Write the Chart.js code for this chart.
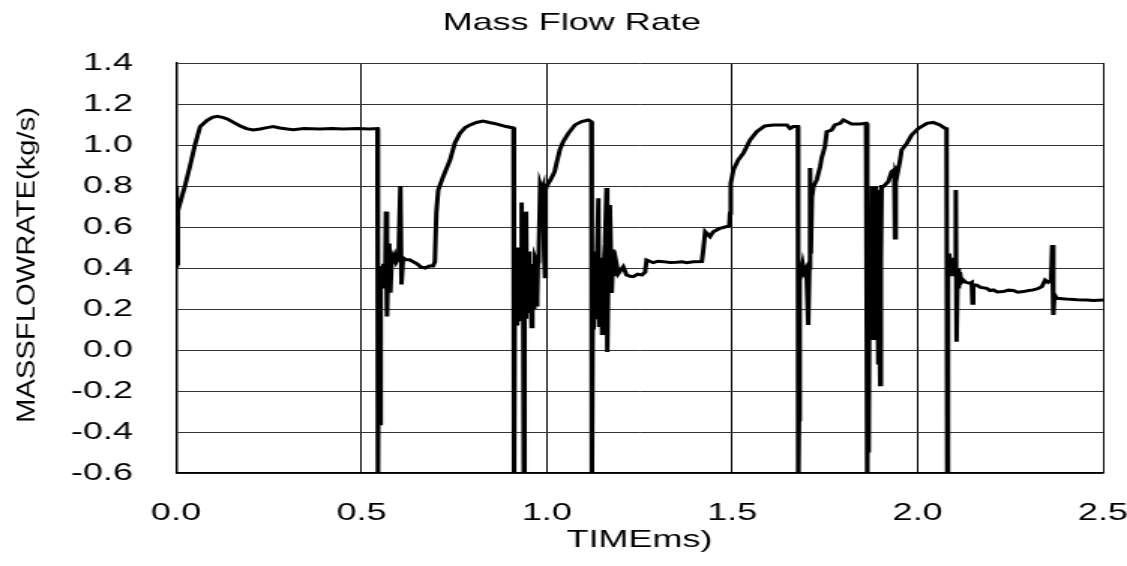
<!DOCTYPE html>
<html>
<head>
<meta charset="utf-8">
<script src="https://cdn.jsdelivr.net/npm/chart.js@4/dist/chart.umd.min.js"></script>
<style>
  html, body { margin: 0; padding: 0; background: #fff; overflow: hidden; }
  #c { display: block; transform: scaleX(1.50067); transform-origin: 0 0; }
</style>
</head>
<body>
<canvas id="c" width="751" height="566"></canvas>
<script>
// ---- data ----
const chartTitle = 'Mass Flow Rate';
const xAxisTitle = 'TIMEms)';
const yAxisTitle = 'MASSFLOWRATE(kg/s)';
const xTicks = [0.0, 0.5, 1.0, 1.5, 2.0, 2.5];
const yTicks = [-0.6, -0.4, -0.2, 0.0, 0.2, 0.4, 0.6, 0.8, 1.0, 1.2, 1.4];

// time (ms)
const timeMs = [
  0.000, 0.001, 0.002, 0.003, 0.005, 0.024, 0.038, 0.051, 0.065, 0.084, 0.098, 0.111, 0.125, 0.138, 0.155, 0.173,
  0.190, 0.208, 0.227, 0.245, 0.262, 0.280, 0.300, 0.316, 0.345, 0.388, 0.420, 0.450, 0.490, 0.520, 0.543,
  0.544, 0.545, 0.547, 0.550, 0.552, 0.556, 0.560, 0.564, 0.566, 0.569, 0.572, 0.575, 0.578, 0.582, 0.586, 0.590,
  0.594, 0.600, 0.605, 0.608, 0.612, 0.620, 0.630, 0.640, 0.650, 0.660, 0.672, 0.683, 0.693, 0.698, 0.702, 0.707,
  0.720, 0.739, 0.752, 0.766, 0.780, 0.793, 0.810, 0.828, 0.845, 0.866, 0.890, 0.910,
  0.911, 0.912, 0.914, 0.916, 0.918, 0.920, 0.922, 0.924, 0.926, 0.928, 0.930, 0.932, 0.934, 0.936, 0.938, 0.940,
  0.942, 0.944, 0.946, 0.948, 0.951, 0.953, 0.955, 0.957, 0.959, 0.961, 0.963, 0.966, 0.968, 0.970, 0.972, 0.974,
  0.976, 0.978, 0.982, 0.986, 0.990, 0.993, 0.995, 0.997, 0.999, 1.012, 1.021, 1.026,
  1.035, 1.044, 1.058, 1.076, 1.094, 1.112, 1.120,
  1.1215, 1.124, 1.126, 1.128, 1.130, 1.132, 1.134, 1.136, 1.139, 1.141, 1.143, 1.145, 1.147, 1.149, 1.151, 1.153,
  1.155, 1.157, 1.161, 1.163, 1.166, 1.170, 1.175, 1.179, 1.184, 1.188, 1.193, 1.199, 1.206, 1.215, 1.225, 1.233,
  1.245, 1.256, 1.265, 1.269, 1.287, 1.300, 1.314, 1.332, 1.350, 1.365, 1.377, 1.395, 1.418, 1.422, 1.427, 1.440,
  1.449, 1.467, 1.492, 1.494, 1.496, 1.503, 1.516, 1.530, 1.548, 1.566, 1.588, 1.611, 1.630, 1.647, 1.656, 1.665,
  1.677,
  1.678, 1.680, 1.682, 1.686, 1.690, 1.694, 1.700, 1.705, 1.708, 1.710, 1.712, 1.715, 1.719, 1.728, 1.737, 1.741,
  1.750, 1.755, 1.768, 1.777, 1.791, 1.800, 1.809, 1.822, 1.845, 1.861, 1.864,
  1.8645, 1.866, 1.868, 1.870, 1.872, 1.875, 1.877, 1.879, 1.881, 1.883, 1.886, 1.888, 1.890, 1.892, 1.894, 1.896,
  1.899, 1.901, 1.903, 1.9075, 1.921, 1.930, 1.937, 1.939, 1.941, 1.944, 1.952, 1.957, 1.971, 1.984, 2.002, 2.025,
  2.042, 2.060, 2.074, 2.078,
  2.080, 2.082, 2.085, 2.088, 2.091, 2.094, 2.097, 2.100, 2.103, 2.105, 2.108, 2.111, 2.114, 2.118, 2.123, 2.130,
  2.141, 2.146, 2.148, 2.150, 2.159, 2.170, 2.186, 2.195, 2.204, 2.215, 2.231, 2.245, 2.258, 2.270, 2.285, 2.300,
  2.312, 2.325, 2.335, 2.344, 2.352, 2.360, 2.363, 2.366, 2.369, 2.375, 2.390, 2.411, 2.430, 2.456, 2.475, 2.500
];

// mass flow rate (kg/s); values under -0.6 run off the bottom of the plot
const massFlow = [
  0.80, 0.40, 0.79, 0.42, 0.68, 0.80, 0.90, 1.00, 1.09, 1.12, 1.135, 1.14, 1.135, 1.127, 1.11, 1.093,
  1.08, 1.073, 1.078, 1.085, 1.090, 1.083, 1.078, 1.075, 1.080, 1.078, 1.080, 1.078, 1.080, 1.078, 1.080,
  -0.75, -0.75, 0.41, -0.36, 0.40, 0.35, 0.42, 0.30, 0.675, 0.163, 0.45, 0.52, 0.28, 0.46, 0.44, 0.46,
  0.43, 0.45, 0.80, 0.32, 0.45, 0.44, 0.44, 0.43, 0.42, 0.405, 0.40, 0.41, 0.41, 0.43, 0.67, 0.78,
  0.844, 0.927, 1.01, 1.058, 1.085, 1.098, 1.11, 1.117, 1.11, 1.102, 1.09, 1.083,
  1.08, -0.75, 0.48, 0.15, 0.50, 0.12, 0.45, 0.18, 0.40, 0.14, 0.46, 0.72, 0.22, 0.42, -0.75, 0.35,
  0.16, 0.675, 0.20, 0.44, 0.48, 0.18, 0.40, 0.25, 0.114, 0.42, 0.40, 0.20, 0.45, 0.44, 0.22, 0.25,
  0.43, 0.45, 0.805, 0.78, 0.80, 0.45, 0.357, 0.78, 0.797, 0.837, 0.87, 0.91,
  0.976, 1.016, 1.057, 1.098, 1.114, 1.122, 1.114,
  -0.75, 0.30, 0.10, 0.45, 0.15, 0.48, 0.18, 0.50, 0.74, 0.12, 0.42, 0.15, 0.45, 0.08, 0.40, 0.20,
  0.46, 0.52, 0.79, -0.01, 0.40, 0.707, 0.278, 0.49, 0.36, 0.42, 0.374, 0.39, 0.406, 0.366, 0.36, 0.358,
  0.37, 0.366, 0.38, 0.439, 0.426, 0.433, 0.431, 0.427, 0.428, 0.43, 0.426, 0.43, 0.431, 0.488, 0.577, 0.553,
  0.577, 0.594, 0.605, 0.667, 0.813, 0.878, 0.927, 0.96, 1.024, 1.065, 1.093, 1.098, 1.098, 1.098, 1.081, 1.09,
  1.09,
  -0.75, -0.34, 0.42, 0.38, 0.42, 0.38, 0.40, 0.122, 0.40, 0.888, 0.47, 0.747, 0.797, 0.83, 0.894, 0.935,
  0.992, 1.065, 1.073, 1.098, 1.106, 1.122, 1.114, 1.102, 1.102, 1.106, 1.10,
  -0.75, 0.30, -0.50, 0.35, 0.05, 0.40, 0.797, 0.10, 0.45, 0.049, 0.797, 0.25, 0.78, 0.30, -0.063, 0.40,
  -0.17, 0.45, 0.797, 0.797, 0.821, 0.87, 0.88, 0.546, 0.86, 0.845, 0.919, 0.976, 1.008, 1.049, 1.081, 1.106,
  1.11, 1.098, 1.081, 1.08,
  -0.75, 0.42, 0.47, 0.40, 0.45, 0.36, 0.44, 0.38, 0.78, 0.04, 0.40, 0.30, 0.38, 0.33, 0.341, 0.33,
  0.325, 0.33, 0.228, 0.32, 0.317, 0.305, 0.301, 0.29, 0.293, 0.283, 0.285, 0.292, 0.29, 0.282, 0.285, 0.29,
  0.293, 0.30, 0.309, 0.341, 0.33, 0.34, 0.512, 0.171, 0.27, 0.252, 0.25, 0.247, 0.245, 0.244, 0.242, 0.244
];

// ---- chart ----
const STRETCH = 1127 / 751;
const FONT = '"Liberation Sans", Arial, Helvetica, sans-serif';
Chart.defaults.font.family = FONT;
Chart.defaults.color = '#000';

const points = timeMs.map((t, i) => ({ x: t, y: massFlow[i] }));
const fmt = v => (Math.abs(v) < 1e-9 ? 0 : v).toFixed(1);

const yTitlePlugin = {
  id: 'yTitle',
  afterDraw(chart) {
    const ctx = chart.ctx;
    const area = chart.chartArea;
    ctx.save();
    ctx.font = '25px ' + FONT;
    ctx.fillStyle = '#000';
    ctx.textAlign = 'center';
    ctx.textBaseline = 'middle';
    const w = ctx.measureText(yAxisTitle).width;
    ctx.translate(18.3, (area.top + area.bottom) / 2 - 3);
    ctx.scale(1 / STRETCH, 1);
    ctx.rotate(-Math.PI / 2);
    ctx.scale(316 / w, 1);
    ctx.fillText(yAxisTitle, 0, 0);
    ctx.restore();
  }
};

new Chart(document.getElementById('c'), {
  type: 'line',
  data: {
    datasets: [{
      data: points,
      borderColor: '#000',
      backgroundColor: '#000',
      borderWidth: 3,
      pointRadius: 0,
      tension: 0,
      fill: false
    }]
  },
  options: {
    responsive: false,
    animation: false,
    events: [],
    layout: { padding: { left: 27, right: 16, top: 0, bottom: 0 } },
    plugins: {
      legend: { display: false },
      tooltip: { enabled: false },
      title: {
        display: true,
        text: chartTitle,
        color: '#000',
        font: { size: 24, weight: 'normal', lineHeight: 1.2 },
        padding: { top: 9, bottom: 25.2 }
      }
    },
    scales: {
      x: {
        type: 'linear',
        min: xTicks[0],
        max: xTicks[xTicks.length - 1],
        afterBuildTicks: s => { s.ticks = xTicks.map(v => ({ value: v })); },
        afterFit: s => { s.height = 93; s.paddingLeft = 0; s.paddingRight = 0; },
        ticks: {
          callback: v => fmt(v),
          autoSkip: false,
          maxRotation: 0,
          padding: 26,
          color: '#000',
          font: { size: 24, lineHeight: 1.2 }
        },
        grid: { color: '#000', lineWidth: 1, drawTicks: false },
        border: { color: '#000', width: 1.5 },
        title: {
          display: true,
          text: xAxisTitle,
          color: '#000',
          font: { size: 24, lineHeight: 1.2 },
          padding: { top: 0, bottom: 10.8 }
        }
      },
      y: {
        type: 'linear',
        min: yTicks[0],
        max: yTicks[yTicks.length - 1],
        afterBuildTicks: s => { s.ticks = yTicks.map(v => ({ value: v })); },
        afterFit: s => { s.width = 90.3; s.paddingTop = 0; s.paddingBottom = 0; },
        ticks: {
          callback: v => fmt(v),
          autoSkip: false,
          padding: 28.7,
          color: '#000',
          font: { size: 24, lineHeight: 1.2 }
        },
        grid: { color: '#333', lineWidth: 1, drawTicks: false },
        border: { color: '#000', width: 1.5 }
      }
    }
  },
  plugins: [yTitlePlugin]
});
</script>
</body>
</html>
